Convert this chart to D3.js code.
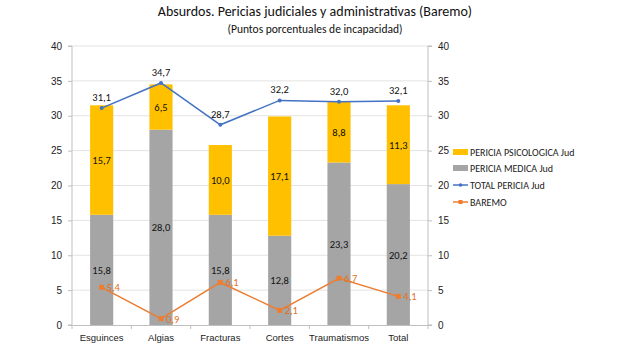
<!DOCTYPE html>
<html><head><meta charset="utf-8">
<script src="https://cdn.jsdelivr.net/npm/d3@7"></script>
<style>body{margin:0;background:#fff;} svg{display:block;font-family:Carlito,Calibri,"Liberation Sans Narrow","Open Sans",sans-serif;}</style>
</head><body><svg id="c" width="630" height="355"></svg>
<script>
const categories = ["Esguinces","Algias","Fracturas","Cortes","Traumatismos","Total"];
const periciaMedica = [15.8,28.0,15.8,12.8,23.3,20.2];
const periciaPsicologica = [15.7,6.5,10.0,17.1,8.8,11.3];
const totalPericia = [31.1,34.7,28.7,32.2,32.0,32.1];
const baremo = [5.4,0.9,6.1,2.1,6.7,4.1];
const yTicks = [0,5,10,15,20,25,30,35,40];
const seriesNames = ["PERICIA PSICOLOGICA Jud","PERICIA MEDICA Jud","TOTAL PERICIA Jud","BAREMO"];
const title = "Absurdos. Pericias  judiciales y administrativas (Baremo)";
const subtitle = "(Puntos porcentuales de incapacidad)";

const C = {yellow:"#FFC000", gray:"#A5A5A5", blue:"#4472C4", orange:"#ED7D31"};
const svg = d3.select("#c");
const L=72, R=428, T=46, B=325;
const x = d3.scaleBand().domain(categories).range([L,R]).paddingInner(0.61).paddingOuter(0.305);
const xc = d => x(d)+x.bandwidth()/2;
const y = d3.scaleLinear().domain([0,40]).range([B,T]);

svg.append("text").attr("x",315).attr("y",16).attr("text-anchor","middle").attr("font-size",14).attr("fill","#111").text(title);
svg.append("text").attr("x",315).attr("y",33).attr("text-anchor","middle").attr("font-size",11.5).attr("fill","#111").text(subtitle);

// gridlines
svg.append("g").selectAll("line").data(yTicks.filter(t=>t>0)).join("line")
  .attr("x1",L).attr("x2",R).attr("y1",d=>y(d)).attr("y2",d=>y(d)).attr("stroke","#e3e3e3").attr("stroke-width",1);

// axes
const fmt = d3.format("d");
const gl = svg.append("g").attr("transform",`translate(${L},0)`).call(d3.axisLeft(y).tickValues(yTicks).tickFormat(fmt).tickSize(4).tickPadding(6));
const gr = svg.append("g").attr("transform",`translate(${R},0)`).call(d3.axisRight(y).tickValues(yTicks).tickFormat(fmt).tickSize(4).tickPadding(6));
[gl,gr].forEach(g=>{g.selectAll("path,line").attr("stroke","#bfbfbf");g.selectAll("text").attr("font-size",10).attr("fill","#222");});
gl.select(".domain").attr("d",`M-4,${T}H0V${B}H-4`);
gr.select(".domain").attr("d",`M4,${T}H0V${B}H4`);

const gx = svg.append("g").attr("transform",`translate(0,${B})`).call(d3.axisBottom(x).tickSize(0).tickPadding(9));
gx.select(".domain").attr("stroke","#bfbfbf");
gx.selectAll("text").attr("font-size",9.5).attr("fill","#222");
const step = x.step();
svg.append("g").selectAll("line").data(d3.range(categories.length+1)).join("line")
  .attr("x1",i=>L+i*step).attr("x2",i=>L+i*step).attr("y1",B).attr("y2",B+4).attr("stroke","#bfbfbf");

// bars
const bars = svg.append("g");
bars.selectAll("rect.m").data(categories).join("rect").attr("class","m")
  .attr("x",d=>x(d)).attr("width",x.bandwidth())
  .attr("y",(d,i)=>y(periciaMedica[i])).attr("height",(d,i)=>y(0)-y(periciaMedica[i])).attr("fill",C.gray);
bars.selectAll("rect.p").data(categories).join("rect").attr("class","p")
  .attr("x",d=>x(d)).attr("width",x.bandwidth())
  .attr("y",(d,i)=>y(periciaMedica[i]+periciaPsicologica[i])).attr("height",(d,i)=>y(0)-y(periciaPsicologica[i])).attr("fill",C.yellow);

const cf = v => v.toFixed(1).replace(".",",");
const lab = svg.append("g").attr("font-size",10.5).attr("fill","#111").attr("text-anchor","middle");
lab.selectAll("text.m").data(categories).join("text")
  .attr("x",d=>xc(d)).attr("y",(d,i)=>y(periciaMedica[i]/2)+4).text((d,i)=>cf(periciaMedica[i]));
lab.selectAll("text.p").data(categories).join("text")
  .attr("x",d=>xc(d)).attr("y",(d,i)=>y(periciaMedica[i]+periciaPsicologica[i]/2)+4).text((d,i)=>cf(periciaPsicologica[i]));

// lines
const line = d3.line().x(d=>xc(d[0])).y(d=>y(d[1]));
svg.append("path").datum(categories.map((c,i)=>[c,totalPericia[i]])).attr("d",line).attr("fill","none").attr("stroke",C.blue).attr("stroke-width",1.5);
svg.append("g").selectAll("circle").data(categories).join("circle").attr("cx",d=>xc(d)).attr("cy",(d,i)=>y(totalPericia[i])).attr("r",2).attr("fill",C.blue);
svg.append("g").attr("font-size",10.5).attr("fill","#111").attr("text-anchor","middle").selectAll("text").data(categories).join("text")
  .attr("x",d=>xc(d)).attr("y",(d,i)=>y(totalPericia[i])-7).text((d,i)=>cf(totalPericia[i]));

svg.append("path").datum(categories.map((c,i)=>[c,baremo[i]])).attr("d",line).attr("fill","none").attr("stroke",C.orange).attr("stroke-width",1.5);
svg.append("g").selectAll("rect").data(categories).join("rect").attr("x",d=>xc(d)-2.5).attr("y",(d,i)=>y(baremo[i])-2.5).attr("width",5).attr("height",5).attr("fill",C.orange);
svg.append("g").attr("font-size",10.5).attr("fill","#E07020").selectAll("text").data(categories).join("text")
  .attr("x",d=>xc(d)+5).attr("y",(d,i)=>y(baremo[i])+4).text((d,i)=>cf(baremo[i]));

// legend
const lg = svg.append("g").attr("font-size",10).attr("fill","#222");
const ly = [152,168,185,202];
seriesNames.forEach((n,i)=>{
  const g = lg.append("g").attr("transform",`translate(453,${ly[i]})`);
  if(i<2){ g.append("rect").attr("x",0).attr("y",-3).attr("width",15).attr("height",6).attr("fill",i==0?C.yellow:C.gray); }
  else {
    const col = i==2?C.blue:C.orange;
    g.append("line").attr("x1",0).attr("x2",15).attr("stroke",col).attr("stroke-width",1.5);
    if(i==2) g.append("circle").attr("cx",7.5).attr("r",1.8).attr("fill",col);
    else g.append("rect").attr("x",5.5).attr("y",-2).attr("width",4).attr("height",4).attr("fill",col);
  }
  g.append("text").attr("x",17).attr("y",3.5).text(n);
});
</script></body></html>
